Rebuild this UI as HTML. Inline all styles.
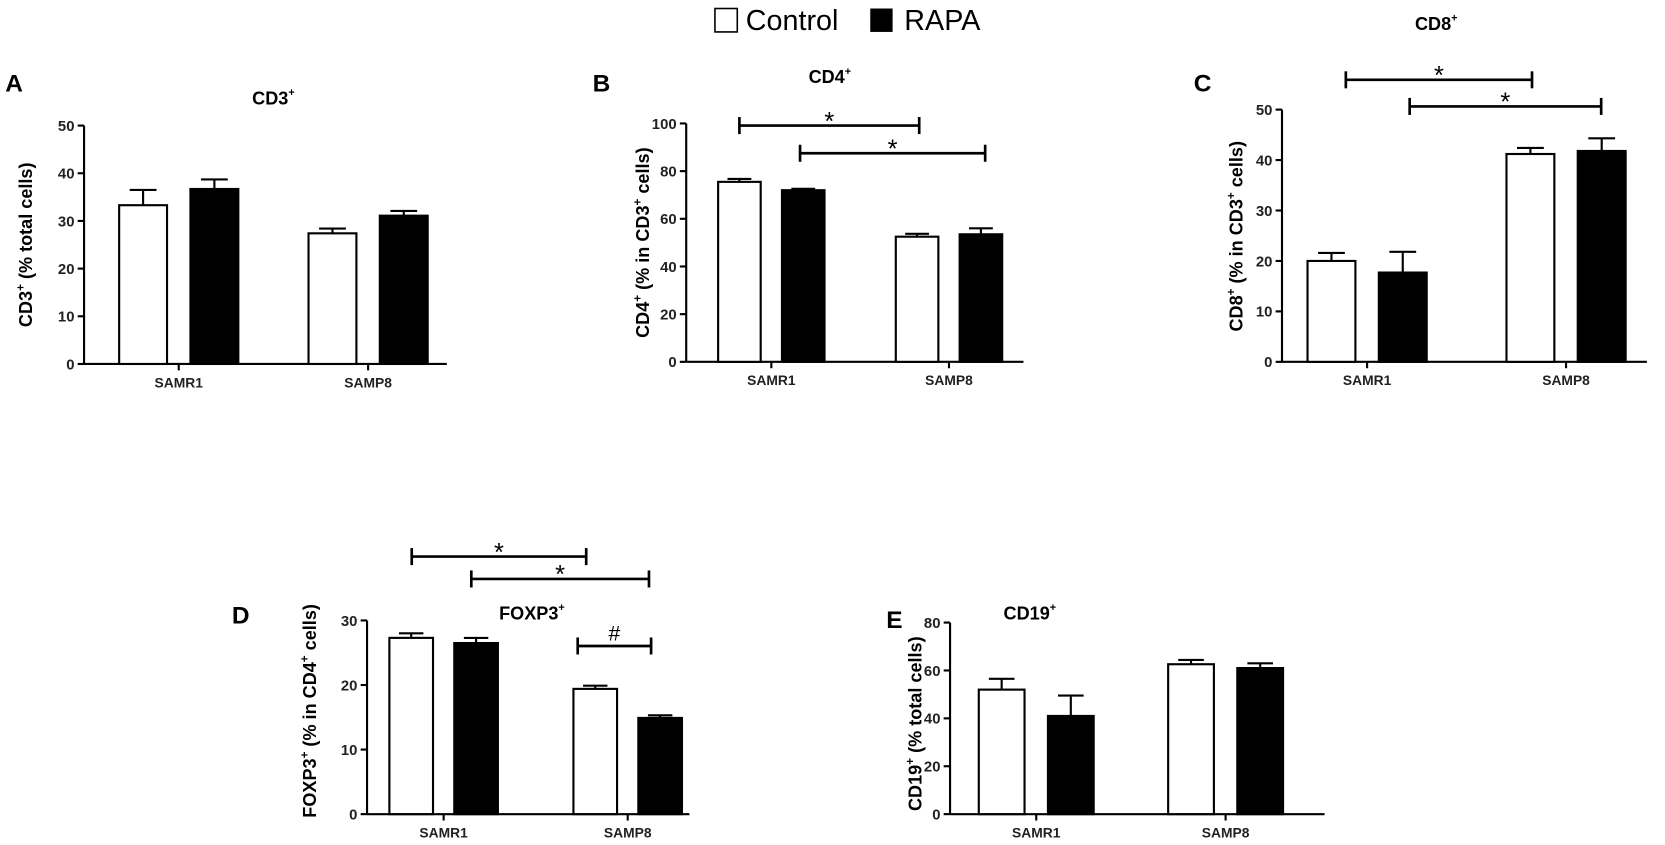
<!DOCTYPE html>
<html><head><meta charset="utf-8"><style>
html,body{margin:0;padding:0;background:#fff;}
svg{display:block;font-family:"Liberation Sans",Arial,sans-serif;}
</style></head><body>
<svg id="fig" width="1665" height="845" viewBox="0 0 1565 794" preserveAspectRatio="none">
<g>
<rect x="672" y="8" width="21" height="22" fill="#fff" stroke="#000" stroke-width="1.5"/>
<text x="701" y="28" font-size="27">Control</text>
<rect x="818" y="8" width="21" height="22" fill="#000"/>
<text x="850" y="28" font-size="27">RAPA</text>
</g>
</svg>
<script>
const categories = ["SAMR1","SAMP8"];
const cd3Control = [33.3, 27.4], cd3ControlErr = [3.2, 1.0];
const cd3Rapa = [36.7, 31.1], cd3RapaErr = [2.0, 1.0];
const cd4Control = [75.5, 52.5], cd4ControlErr = [1.2, 1.2];
const cd4Rapa = [72.0, 53.5], cd4RapaErr = [0.6, 2.5];
const cd8Control = [20.0, 41.2], cd8ControlErr = [1.6, 1.2];
const cd8Rapa = [17.7, 41.8], cd8RapaErr = [4.1, 2.5];
const foxControl = [27.3, 19.4], foxControlErr = [0.7, 0.5];
const foxRapa = [26.5, 14.9], foxRapaErr = [0.8, 0.4];
const cd19Control = [52.0, 62.6], cd19ControlErr = [4.5, 1.8];
const cd19Rapa = [41.0, 61.0], cd19RapaErr = [8.5, 2.0];
const ticksA = [0,10,20,30,40,50];
const ticksB = [0,20,40,60,80,100];
const ticksC = [0,10,20,30,40,50];
const ticksD = [0,10,20,30];
const ticksE = [0,20,40,60,80];

const NS = "http://www.w3.org/2000/svg";
const svg = document.getElementById('fig');
function mk(tag, attrs, parent, txt){
  const e = document.createElementNS(NS, tag);
  for (const k in attrs) e.setAttribute(k, attrs[k]);
  if (txt !== undefined) e.textContent = txt;
  parent.appendChild(e); return e;
}
function supText(parent, x, y, base, sup, size, anchor){
  const t = mk('text', {x:x, y:y, 'font-size':size, 'font-weight':'bold', 'text-anchor':anchor||'middle'}, parent);
  t.appendChild(document.createTextNode(base));
  const s = document.createElementNS(NS,'tspan'); s.setAttribute('dy', -size*0.45); s.setAttribute('font-size', size*0.6); s.textContent = sup; t.appendChild(s);
  return t;
}
function panel(p){
  const g = mk('g', {}, svg);
  
  
  const ys = v => p.y0 - (v / p.ymax) * (p.y0 - p.ytop);
  const L = mk('text', {x:p.lx, y:p.ly, 'font-size':23, 'font-weight':'bold'}, g, p.letter);
  
  
  const T = supText(g, p.tx, p.ty, p.title, '+', 17);
  
  
  const ya = mk('line', {x1:p.ax, y1:ys(p.ymax), x2:p.ax, y2:p.y0, stroke:'#000', 'stroke-width':2}, g);
  
  
  p.ticks.forEach(t => {
    mk('line', {x1:p.ax-6, y1:ys(t), x2:p.ax, y2:ys(t), stroke:'#000', 'stroke-width':2}, g);
    const tl = mk('text', {x:p.ax-9, y:ys(t)+5, 'font-size':14, 'font-weight':'bold', 'text-anchor':'end', fill:'#222'}, g, t);
    
    
  });
  const xa = mk('line', {x1:p.ax, y1:p.y0, x2:p.xend, y2:p.y0, stroke:'#000', 'stroke-width':2}, g);
  
  
  const yt = mk('text', {transform:`translate(${p.ylx},${p.yly}) rotate(-90)`, 'font-size':17, 'font-weight':'bold', 'text-anchor':'middle'}, g);
  
  
  p.ylabel.forEach((seg,i) => {
    const s = document.createElementNS(NS,'tspan');
    if (seg.sup){ s.setAttribute('dy', -7); s.setAttribute('font-size', 11); }
    else if (i>0 && p.ylabel[i-1].sup){ s.setAttribute('dy', 7); }
    s.textContent = seg.t; yt.appendChild(s);
  });
  const series = [{v:p.ctrl, e:p.ctrlErr, fill:'#fff', off:-1, name:'control'},{v:p.rapa, e:p.rapaErr, fill:'#000', off:1, name:'rapa'}];
  categories.forEach((c, i) => {
    const cx = p.centers[i];
    mk('line', {x1:cx, y1:p.y0, x2:cx, y2:p.y0+6, stroke:'#000', 'stroke-width':2}, g);
    const cl = mk('text', {x:cx, y:p.y0+22, 'font-size':13, 'font-weight':'bold', 'text-anchor':'middle', fill:'#222'}, g, c);
    
    
    series.forEach(s => {
      const x0 = s.off < 0 ? cx - p.gap/2 - p.bw : cx + p.gap/2;
      const top = ys(s.v[i]);
      const et = ys(s.v[i] + s.e[i]);
      const mid = x0 + p.bw/2;
      const el = mk('line', {x1:mid, y1:top, x2:mid, y2:et, stroke:'#000', 'stroke-width':2}, g);
      
      
      mk('line', {x1:mid-p.bw*0.28, y1:et, x2:mid+p.bw*0.28, y2:et, stroke:'#000', 'stroke-width':2}, g);
      const r = mk('rect', {x:x0, y:top, width:p.bw, height:p.y0-top, fill:s.fill, stroke:'#000', 'stroke-width':2}, g);
      
      
    });
  });
  (p.sig || []).forEach(b => {
    const sg = mk('g', {}, g);
    
    
    mk('line', {x1:b.x1, y1:b.y, x2:b.x2, y2:b.y, stroke:'#000', 'stroke-width':2.5}, sg);
    mk('line', {x1:b.x1, y1:b.y-8, x2:b.x1, y2:b.y+8, stroke:'#000', 'stroke-width':2.5}, sg);
    mk('line', {x1:b.x2, y1:b.y-8, x2:b.x2, y2:b.y+8, stroke:'#000', 'stroke-width':2.5}, sg);
    mk('text', {x:(b.x1+b.x2)/2, y:b.mark==='*'? b.y+4 : b.y-5, 'font-size':b.mark==='*'?24:20, 'text-anchor':'middle'}, sg, b.mark);
  });
}
panel({id:'a', letter:'A', lx:5, ly:86, title:'CD3', tx:257, ty:98, ax:79, ytop:118, y0:342, ymax:50, xend:420, ticks:ticksA,
  centers:[168,346], bw:45, gap:22, ctrl:cd3Control, ctrlErr:cd3ControlErr, rapa:cd3Rapa, rapaErr:cd3RapaErr,
  ylx:30, yly:230, ylabel:[{t:'CD3'},{t:'+',sup:1},{t:' (% total cells)'}]});
panel({id:'b', letter:'B', lx:557, ly:86, title:'CD4', tx:780, ty:78, ax:645, ytop:116, y0:340, ymax:100, xend:962, ticks:ticksB,
  centers:[725,892], bw:40, gap:20, ctrl:cd4Control, ctrlErr:cd4ControlErr, rapa:cd4Rapa, rapaErr:cd4RapaErr,
  ylx:610, yly:228, ylabel:[{t:'CD4'},{t:'+',sup:1},{t:' (% in CD3'},{t:'+',sup:1},{t:' cells)'}],
  sig:[{x1:695,x2:864,y:118,mark:'*'},{x1:752,x2:926,y:144,mark:'*'}]});
panel({id:'c', letter:'C', lx:1122, ly:86, title:'CD8', tx:1350, ty:28, ax:1205, ytop:103, y0:340, ymax:50, xend:1548, ticks:ticksC,
  centers:[1285,1472], bw:45, gap:22, ctrl:cd8Control, ctrlErr:cd8ControlErr, rapa:cd8Rapa, rapaErr:cd8RapaErr,
  ylx:1168, yly:222, ylabel:[{t:'CD8'},{t:'+',sup:1},{t:' (% in CD3'},{t:'+',sup:1},{t:' cells)'}],
  sig:[{x1:1265,x2:1440,y:75,mark:'*'},{x1:1325,x2:1505,y:100,mark:'*'}]});
panel({id:'d', letter:'D', lx:218, ly:586, title:'FOXP3', tx:500, ty:582, ax:345, ytop:583, y0:765, ymax:30, xend:648, ticks:ticksD,
  centers:[417,590], bw:41, gap:20, ctrl:foxControl, ctrlErr:foxControlErr, rapa:foxRapa, rapaErr:foxRapaErr,
  ylx:297, yly:668, ylabel:[{t:'FOXP3'},{t:'+',sup:1},{t:' (% in CD4'},{t:'+',sup:1},{t:' cells)'}],
  sig:[{x1:387,x2:551,y:523,mark:'*'},{x1:443,x2:610,y:544,mark:'*'},{x1:543,x2:612,y:607,mark:'#'}]});
panel({id:'e', letter:'E', lx:833, ly:590, title:'CD19', tx:968, ty:582, ax:893, ytop:585, y0:765, ymax:80, xend:1245, ticks:ticksE,
  centers:[974,1152], bw:43, gap:22, ctrl:cd19Control, ctrlErr:cd19ControlErr, rapa:cd19Rapa, rapaErr:cd19RapaErr,
  ylx:866, yly:680, ylabel:[{t:'CD19'},{t:'+',sup:1},{t:' (% total cells)'}]});
</script>
</body></html>
